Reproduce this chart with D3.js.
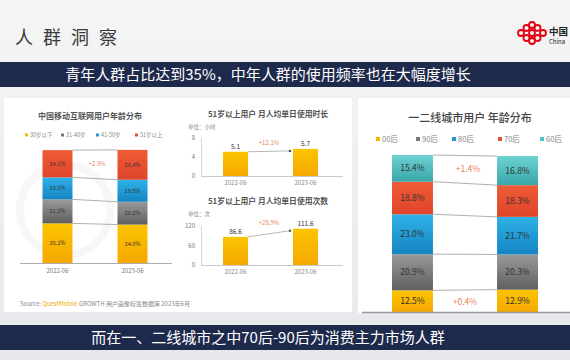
<!DOCTYPE html>
<html><head><meta charset="utf-8">
<script src="https://cdn.jsdelivr.net/npm/d3@7"></script>
<style>body{margin:0;background:#eceef0}svg{display:block;font-family:"Noto Sans CJK SC","Noto Sans",sans-serif}</style>
</head><body><svg id="c" width="570" height="360"></svg>
<script>
// ---- data ----
const pageTitle = "人 群 洞 察";
const headline = "青年人群占比达到35%，中年人群的使用频率也在大幅度增长";
const footline = "而在一、二线城市之中70后-90后为消费主力市场人群";

const ageTitle = "中国移动互联网用户年龄分布";
const ageYears = ["2022-06", "2023-06"];
const ageGroups = ["30岁以下", "31-40岁", "41-50岁", "51岁以上"];
const age2022 = [35.1, 21.2, 19.5, 24.1];
const age2023 = [34.0, 20.2, 19.5, 26.4];
const ageDelta = "+2.3%";

const durTitle = "51岁以上用户 月人均单日使用时长";
const durUnit = "单位：小时";
const durValues = [5.1, 5.7];
const durTicks = [0, 4, 8];
const durDelta = "+12.1%";

const cntTitle = "51岁以上用户 月人均单日使用次数";
const cntUnit = "单位：次";
const cntValues = [86.6, 111.6];
const cntTicks = [0, 60, 120];
const cntDelta = "+28.9%";

const cityTitle = "一二线城市用户 年龄分布";
const cityGroups = ["00后", "90后", "80后", "70后", "60后"];
const cityLeft = [12.5, 20.9, 23.0, 18.8, 15.4];
const cityRight = [12.9, 20.3, 21.7, 18.3, 16.8];
const cityDeltaTop = "+1.4%";
const cityDeltaBottom = "+0.4%";

const sourceParts = ["Source:  ", "QuestMobile", " GROWTH 用户画像标签数据库 2023年6月"];

// ---- drawing ----
const svg = d3.select("#c");
const defs = svg.append("defs");
function vgrad(id, top, bottom) {
  const g = defs.append("linearGradient").attr("id", id).attr("x1", 0).attr("y1", 0).attr("x2", 0).attr("y2", 1);
  g.append("stop").attr("offset", "0%").attr("stop-color", top);
  g.append("stop").attr("offset", "100%").attr("stop-color", bottom);
}
vgrad("bg", "#f5f5f5", "#e6e8eb");
vgrad("gY", "#fbc400", "#f6a800");
vgrad("gG", "#9a9a9a", "#5f5f5f");
vgrad("gB", "#2fb2e8", "#1584c2");
vgrad("gR", "#ef5b36", "#e0452a");
vgrad("gT", "#6dd2d2", "#3aa6aa");
const fills = ["url(#gY)", "url(#gG)", "url(#gB)", "url(#gR)", "url(#gT)"];
const flat = ["#f7b500", "#777777", "#1d9ad6", "#e8502c", "#4cc3c4"];
const orange = "#e9825a";

svg.append("rect").attr("width", 570).attr("height", 360).attr("fill", "url(#bg)");

// title
svg.append("text").attr("x", 15).attr("y", 44).attr("font-size", 18).attr("fill", "#3a3a3a")
  .attr("letter-spacing", 3).text(pageTitle);

// logo
const logo = svg.append("g").attr("transform", "translate(532,33)");
[[-11,0],[11,0],[-5.5,-5],[5.5,-5],[-5.5,5],[5.5,5],[0,0],[0,-8],[0,8]].forEach(p => {
  logo.append("circle").attr("cx", p[0]).attr("cy", p[1]).attr("r", 3)
    .attr("fill", "none").attr("stroke", "#e60012").attr("stroke-width", 1.8);
});
svg.append("text").attr("x", 549).attr("y", 35).attr("font-size", 9.5).attr("font-weight", 700).attr("fill", "#222").text("中国");
svg.append("text").attr("x", 549).attr("y", 44).attr("font-size", 6).attr("fill", "#222").text("China");

// banners
function banner(y, h, txt) {
  svg.append("rect").attr("x", 0).attr("y", y).attr("width", 570).attr("height", h).attr("fill", "#1e2a4c");
  svg.append("text").attr("x", 268).attr("y", y + h / 2 + 5.5).attr("text-anchor", "middle")
    .attr("font-size", 15).attr("fill", "#ffffff").text(txt);
}
banner(62, 25, headline);
banner(325, 25, footline);

// panels
svg.append("rect").attr("x", 4).attr("y", 98).attr("width", 348).attr("height", 214).attr("fill", "#ffffff");
svg.append("rect").attr("x", 358).attr("y", 98).attr("width", 212).attr("height", 215).attr("fill", "#ffffff");

// faint watermark ring
svg.append("circle").attr("cx", 65).attr("cy", 210).attr("r", 45).attr("fill", "none")
  .attr("stroke", "#000").attr("stroke-opacity", 0.03).attr("stroke-width", 8);

// ---------- stacked chart helper ----------
function stackedChart(opt) {
  const g = svg.append("g");
  const x = d3.scaleBand().domain(opt.years).range(opt.xr).paddingInner(opt.pi).paddingOuter(opt.po);
  const series = [opt.a, opt.b];
  const maxTot = d3.max(series, s => d3.sum(s));
  const y = d3.scaleLinear().domain([0, opt.domainMax || maxTot]).range(opt.yr);
  const stacks = series.map(s => { let c = 0; return s.map(v => { const r = [c, c + v]; c += v; return r; }); });
  const bw = x.bandwidth();
  const xL = x(opt.years[0]) + bw, xR = x(opt.years[1]);
  const bounds0 = [0].concat(stacks[0].map(d => d[1]));
  const bounds1 = [0].concat(stacks[1].map(d => d[1]));
  bounds0.forEach((b, i) => {
    if (i === 0) return;
    g.append("line").attr("x1", xL).attr("x2", xR).attr("y1", y(b)).attr("y2", y(bounds1[i]))
      .attr("stroke", "#9a9a9a").attr("stroke-width", 0.8);
  });
  stacks.forEach((st, si) => {
    st.forEach((d, i) => {
      g.append("rect").attr("x", x(opt.years[si])).attr("width", bw)
        .attr("y", y(d[1])).attr("height", y(d[0]) - y(d[1])).attr("fill", fills[i]);
      g.append("text").attr("x", x(opt.years[si]) + bw / 2).attr("y", (y(d[0]) + y(d[1])) / 2 + opt.fs * 0.35)
        .attr("text-anchor", "middle").attr("font-size", opt.fs).attr("fill", "#333")
        .text(series[si][i].toFixed(1) + "%");
    });
  });
  g.append("line").attr("x1", opt.axisX[0]).attr("x2", opt.axisX[1]).attr("y1", y(0) + 0.5).attr("y2", y(0) + 0.5)
    .attr("stroke", "#999").attr("stroke-width", opt.axisW);
  return { x, y, g };
}

// ---------- Chart 1 ----------
const c1 = stackedChart({ years: ageYears, a: age2022, b: age2023, xr: [20, 170], pi: 0.6, po: 0.3,
  yr: [263, 150], domainMax: 100, fs: 5.5, axisX: [20, 172], axisW: 0.8 });
c1.g.append("text").attr("x", 97).attr("y", 166).attr("text-anchor", "middle").attr("font-size", 6)
  .attr("fill", orange).text(ageDelta);
ageYears.forEach(yv => c1.g.append("text").attr("x", c1.x(yv) + c1.x.bandwidth() / 2).attr("y", 273)
  .attr("text-anchor", "middle").attr("font-size", 6).attr("fill", "#777").text(yv));
svg.append("text").attr("x", 90).attr("y", 119).attr("text-anchor", "middle").attr("font-size", 8)
  .attr("font-weight", 700).attr("fill", "#555").text(ageTitle);
const lg1x = [25, 61, 96, 135];
ageGroups.forEach((gname, i) => {
  svg.append("rect").attr("x", lg1x[i]).attr("y", 133.5).attr("width", 3).attr("height", 3).attr("fill", flat[i]);
  svg.append("text").attr("x", lg1x[i] + 5).attr("y", 137).attr("font-size", 5.5).attr("fill", "#888").text(gname);
});
const src = svg.append("text").attr("x", 20).attr("y", 306).attr("font-size", 6).attr("fill", "#888");
sourceParts.forEach((t, i) => src.append("tspan").attr("fill", i === 1 ? "#f2a900" : "#888").text(t));

// ---------- Chart 2 & 3 ----------
function barChart(opt) {
  const g = svg.append("g");
  const x = d3.scaleBand().domain(ageYears).range([201, 340]).paddingInner(0.643).paddingOuter(0.314);
  const y = d3.scaleLinear().domain([0, d3.max(opt.ticks)]).range(opt.yr);
  g.append("line").attr("x1", 201.5).attr("x2", 201.5).attr("y1", y.range()[1]).attr("y2", y(0)).attr("stroke", "#ccc").attr("stroke-width", 0.8);
  g.append("line").attr("x1", 201).attr("x2", 343).attr("y1", y(0) + 0.5).attr("y2", y(0) + 0.5).attr("stroke", "#bbb").attr("stroke-width", 0.8);
  const ax = d3.axisLeft(y).tickValues(opt.ticks).tickSize(0).tickPadding(0);
  const axg = g.append("g").attr("transform", "translate(195,0)").call(ax)
    .attr("font-size", 6).attr("font-family", null);
  axg.select(".domain").remove();
  axg.selectAll("text").attr("fill", "#777");
  opt.values.forEach((v, i) => {
    g.append("rect").attr("x", x(ageYears[i])).attr("width", x.bandwidth()).attr("y", y(v))
      .attr("height", y(0) - y(v)).attr("fill", "url(#gY)");
    g.append("text").attr("x", x(ageYears[i]) + x.bandwidth() / 2).attr("y", y(v) - 3).attr("text-anchor", "middle")
      .attr("font-size", 6.5).attr("fill", "#333").text(v.toFixed(1));
    g.append("text").attr("x", x(ageYears[i]) + x.bandwidth() / 2).attr("y", y(0) + 9).attr("text-anchor", "middle")
      .attr("font-size", 6).attr("fill", "#888").text(ageYears[i]);
  });
  const x1 = x(ageYears[0]) + x.bandwidth(), x2 = x(ageYears[1]) - 3;
  g.append("line").attr("x1", x1).attr("y1", y(opt.values[0])).attr("x2", x2).attr("y2", y(opt.values[1]) + 2)
    .attr("stroke", "#999").attr("stroke-width", 0.7);
  g.append("circle").attr("cx", x2).attr("cy", y(opt.values[1]) + 2).attr("r", 1.3).attr("fill", "#555");
  g.append("text").attr("x", (x1 + x2) / 2).attr("y", y(opt.values[1]) - 4).attr("text-anchor", "middle")
    .attr("font-size", 6).attr("fill", orange).text(opt.delta);
  svg.append("text").attr("x", 268).attr("y", opt.titleY).attr("text-anchor", "middle").attr("font-size", 7.8)
    .attr("font-weight", 700).attr("fill", "#555").text(opt.title);
  svg.append("text").attr("x", 188).attr("y", opt.unitY).attr("font-size", 5.5).attr("fill", "#888").text(opt.unit);
}
barChart({ values: durValues, ticks: durTicks, yr: [176, 138], delta: durDelta, title: durTitle, titleY: 117, unit: durUnit, unitY: 129 });
barChart({ values: cntValues, ticks: cntTicks, yr: [265, 226], delta: cntDelta, title: cntTitle, titleY: 204, unit: cntUnit, unitY: 216 });

// ---------- Chart 4 ----------
const c4 = stackedChart({ years: ageYears, a: cityLeft, b: cityRight, xr: [360.5, 569.5], pi: 0.61, po: 0.3,
  yr: [312, 155], fs: 8.5, axisX: [362, 570], axisW: 1.5 });
c4.g.append("text").attr("x", 468).attr("y", 172).attr("text-anchor", "middle").attr("font-size", 8.5)
  .attr("fill", orange).text(cityDeltaTop);
c4.g.append("text").attr("x", 465).attr("y", 305).attr("text-anchor", "middle").attr("font-size", 8.5)
  .attr("fill", orange).text(cityDeltaBottom);
svg.append("text").attr("x", 470).attr("y", 122).attr("text-anchor", "middle").attr("font-size", 11)
  .attr("font-weight", 500).attr("fill", "#444").text(cityTitle);
const lg4x = [376, 416, 452, 498, 540];
cityGroups.forEach((gname, i) => {
  svg.append("rect").attr("x", lg4x[i]).attr("y", 137).attr("width", 4).attr("height", 4).attr("fill", flat[i]);
  svg.append("text").attr("x", lg4x[i] + 6).attr("y", 141.5).attr("font-size", 7.5).attr("fill", "#888").text(gname);
});
</script></body></html>
